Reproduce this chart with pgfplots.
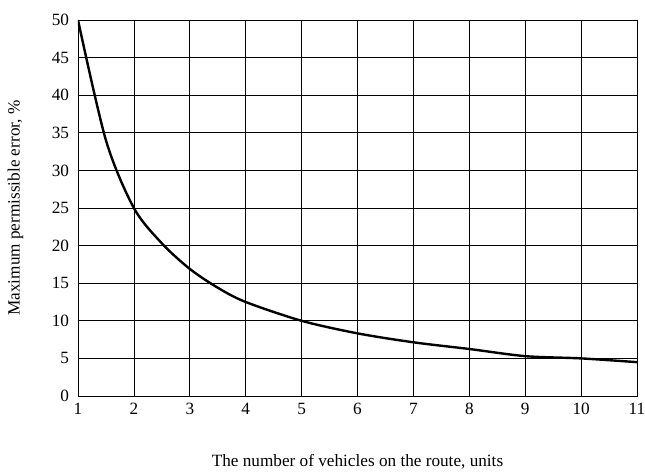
\documentclass[border=0pt]{standalone}
\usepackage{pgfplots}
\pgfplotsset{compat=1.18}
\usepackage{fontspec}
\setmainfont{Liberation Serif}
\begin{document}
\fontsize{17.2}{20}\selectfont
\begin{tikzpicture}
\begin{axis}[
  scale only axis,
  width=559pt, height=376pt,
  xmin=1, xmax=11, ymin=0, ymax=50,
  xtick={1,...,11}, ytick={0,5,...,50},
  grid=major,
  major grid style={black, line width=0.8pt},
  axis line style={black, line width=0.8pt},
  tick style={draw=none},
  /pgf/number format/assume math mode=true,
  ticklabel style={font=\fontsize{17.2}{20}\selectfont},
  yticklabel style={xshift=-3pt},
  xticklabel style={yshift=-1pt},
  xlabel={The number of vehicles on the route, units},
  ylabel={Maximum permissible error, \%},
  label style={font=\fontsize{17.2}{20}\selectfont},
  xlabel style={yshift=-28pt},
  ylabel style={yshift=17pt},
]
\addplot[black, line width=2.4pt, smooth, tension=0.5] coordinates {
(1,50) (1.5,34) (2,25) (2.5,20.3) (3,16.9) (3.5,14.4) (4,12.5) (5,10) (6,8.33) (7,7.14) (8,6.25) (9,5.3) (10,5) (11,4.5)
};
\end{axis}
\pgfresetboundingbox
\path[use as bounding box] ([shift={(-78pt,-77pt)}]current axis.south west) rectangle ([shift={(8pt,20pt)}]current axis.north east);
\end{tikzpicture}
\end{document}
